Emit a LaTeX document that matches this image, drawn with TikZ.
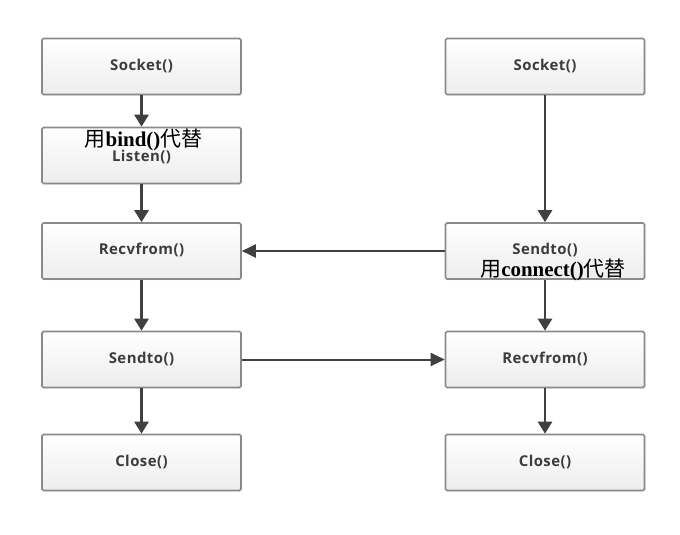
\documentclass[tikz,border=0pt]{standalone}
\usepackage{fontspec}
\setmainfont{Liberation Serif}
\setsansfont[LetterSpace=3]{Open Sans}
\newfontfamily\cjk{Noto Sans CJK SC}
\usetikzlibrary{arrows.meta,shadows}
\definecolor{boxline}{HTML}{8A8A8A}
\definecolor{boxtext}{HTML}{3C3C3C}
\definecolor{arrowc}{HTML}{404040}
\tikzset{
  box/.style={draw=boxline, line width=1.6bp, rounded corners=1.5bp,
    top color=white, bottom color=black!7,
    minimum width=199bp, minimum height=56bp, inner sep=0pt,
    text height=10.5bp, text depth=2.5bp,
    font=\sffamily\bfseries\fontsize{15}{17}\selectfont, text=boxtext,
    drop shadow={shadow xshift=1.2bp, shadow yshift=-1.2bp, fill=black!12, opacity=0.6}},
  arr/.style={draw=arrowc, line width=2.6bp, -{Triangle[width=14bp,length=12bp]}},
  harr/.style={draw=arrowc, line width=2bp, -{Triangle[width=13bp,length=14bp]}},
  note/.style={font=\fontsize{21}{23}\selectfont, text=black, inner sep=0pt}
}
\begin{document}
\begin{tikzpicture}[x=1bp,y=-1bp]
\useasboundingbox (0,0) rectangle (680,535);
% left column
\node[box] (lsock) at (141.5,66.5) {Socket()};
\node[box] (llist) at (141.5,155.5) {\raisebox{-2bp}{Listen()}};
\node[box] (lrecv) at (141.5,251) {Recvfrom()};
\node[box] (lsend) at (141.5,359.5) {Sendto()};
\node[box] (lclose) at (141.5,462.5) {Close()};
% right column
\node[box] (rsock) at (545,66.5) {Socket()};
\node[box] (rsend) at (545,251) {Sendto()};
\node[box] (rrecv) at (545,359.5) {Recvfrom()};
\node[box] (rclose) at (545,462.5) {Close()};
% vertical arrows
\draw[arr] (lsock) -- (llist);
\draw[arr] (llist) -- (lrecv);
\draw[arr] (lrecv) -- (lsend);
\draw[arr] (lsend) -- (lclose);
\draw[arr] (rsock) -- (rsend);
\draw[arr] (rsend) -- (rrecv);
\draw[arr] (rrecv) -- (rclose);
% horizontal arrows
\draw[harr] (rsend) -- (lrecv);
\draw[harr] (lsend) -- (rrecv);
% notes
\node[note] (bindnote) at (143.5,140) {{\cjk 用}\textbf{bind()}{\cjk 代替}};
\node[note] (connnote) at (553,270) {{\cjk 用}\textbf{connect()}{\cjk 代替}};
\end{tikzpicture}
\end{document}
